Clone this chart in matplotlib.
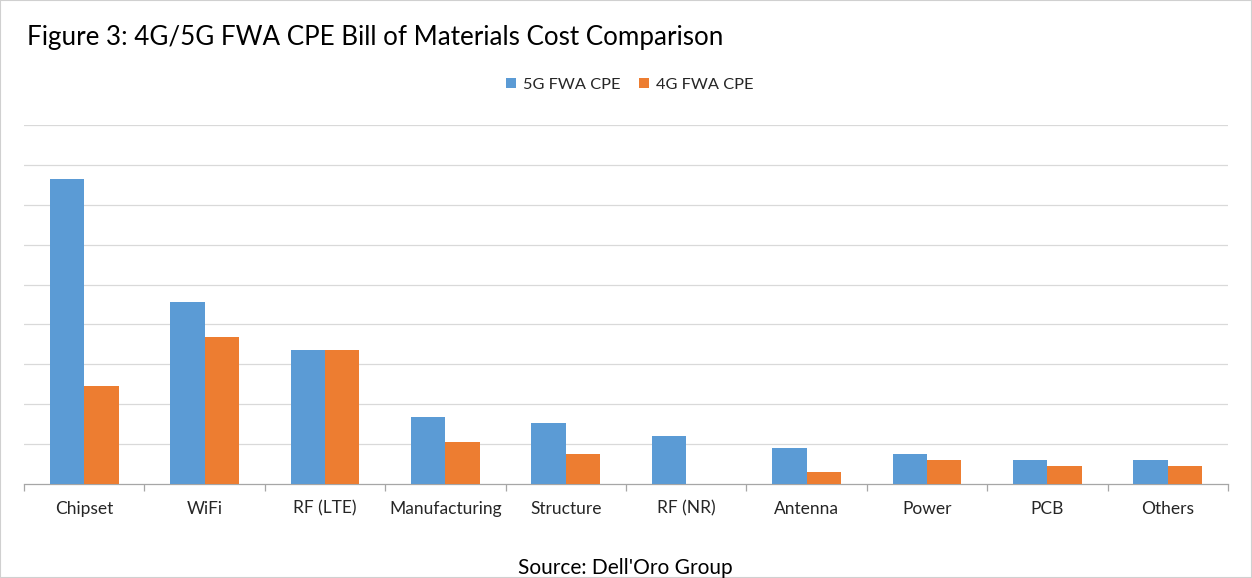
import numpy as np
import matplotlib.pyplot as plt
from matplotlib.patches import Rectangle

# datos (unidades de la cuadrícula)
categorias = ['Chipset', 'WiFi', 'RF (LTE)', 'Manufacturing', 'Structure',
              'RF (NR)', 'Antenna', 'Power', 'PCB', 'Others']
costo_5g = [7.65, 4.575, 3.35, 1.675, 1.525, 1.2, 0.9, 0.75, 0.6, 0.6]
costo_4g = [2.45, 3.675, 3.35, 1.05, 0.75, 0.0, 0.3, 0.6, 0.45, 0.45]

AZUL = '#5B9BD5'
NARANJA = '#ED7D31'
plt.rcParams['font.family'] = ['Lato', 'DejaVu Sans']

fig = plt.figure(figsize=(12.52, 5.78), dpi=100)
ax = fig.add_axes([24/1252, 1 - 484/578, 1204/1252, 359/578])

x = np.arange(len(categorias))
ancho = 0.285
ax.bar(x - ancho/2, costo_5g, ancho, color=AZUL, label='5G FWA CPE', zorder=3)
ax.bar(x + ancho/2, costo_4g, ancho, color=NARANJA, label='4G FWA CPE', zorder=3)

ax.set_xlim(-0.5, len(categorias) - 0.5)
ax.set_ylim(0, 9)
ax.set_yticks(np.arange(1, 10))
ax.yaxis.grid(True, color='#D9D9D9', linewidth=0.9, zorder=0)
ax.tick_params(axis='y', left=False, labelleft=False)

ax.set_xticks(x)
ax.set_xticklabels(categorias, fontsize=12.5, color='#262626')
ax.tick_params(axis='x', length=0, pad=12)
ax.set_xticks(np.arange(-0.5, len(categorias)), minor=True)
ax.tick_params(axis='x', which='minor', length=5, color='#A6A6A6', width=0.9)

for lado in ['top', 'right', 'left']:
    ax.spines[lado].set_visible(False)
ax.spines['bottom'].set_color('#A6A6A6')
ax.spines['bottom'].set_linewidth(0.9)

fig.text(27/1252, 1 - 37/578, 'Figure 3: 4G/5G FWA CPE Bill of Materials Cost Comparison',
         fontsize=18.7, va='center', ha='left', color='black')

ax.legend(loc='center', bbox_to_anchor=(630/1252 - 24/1252) / (1204/1252) * np.array([1, 0]) + np.array([0, (484 - 85) / 359]),
          ncol=2, frameon=False, fontsize=11.8, handlelength=0.6, handleheight=0.6,
          columnspacing=1.1, handletextpad=0.45, labelcolor='#262626')

fig.text(625/1252, 1 - 568/578, "Source: Dell'Oro Group", fontsize=15,
         ha='center', va='center', color='black')

# borde de la imagen
fig.patches.append(Rectangle((0, 0), 1, 1, transform=fig.transFigure,
                             fill=False, edgecolor='#D0D0D0', linewidth=1.5))

fig.savefig('out.png', dpi=100)
